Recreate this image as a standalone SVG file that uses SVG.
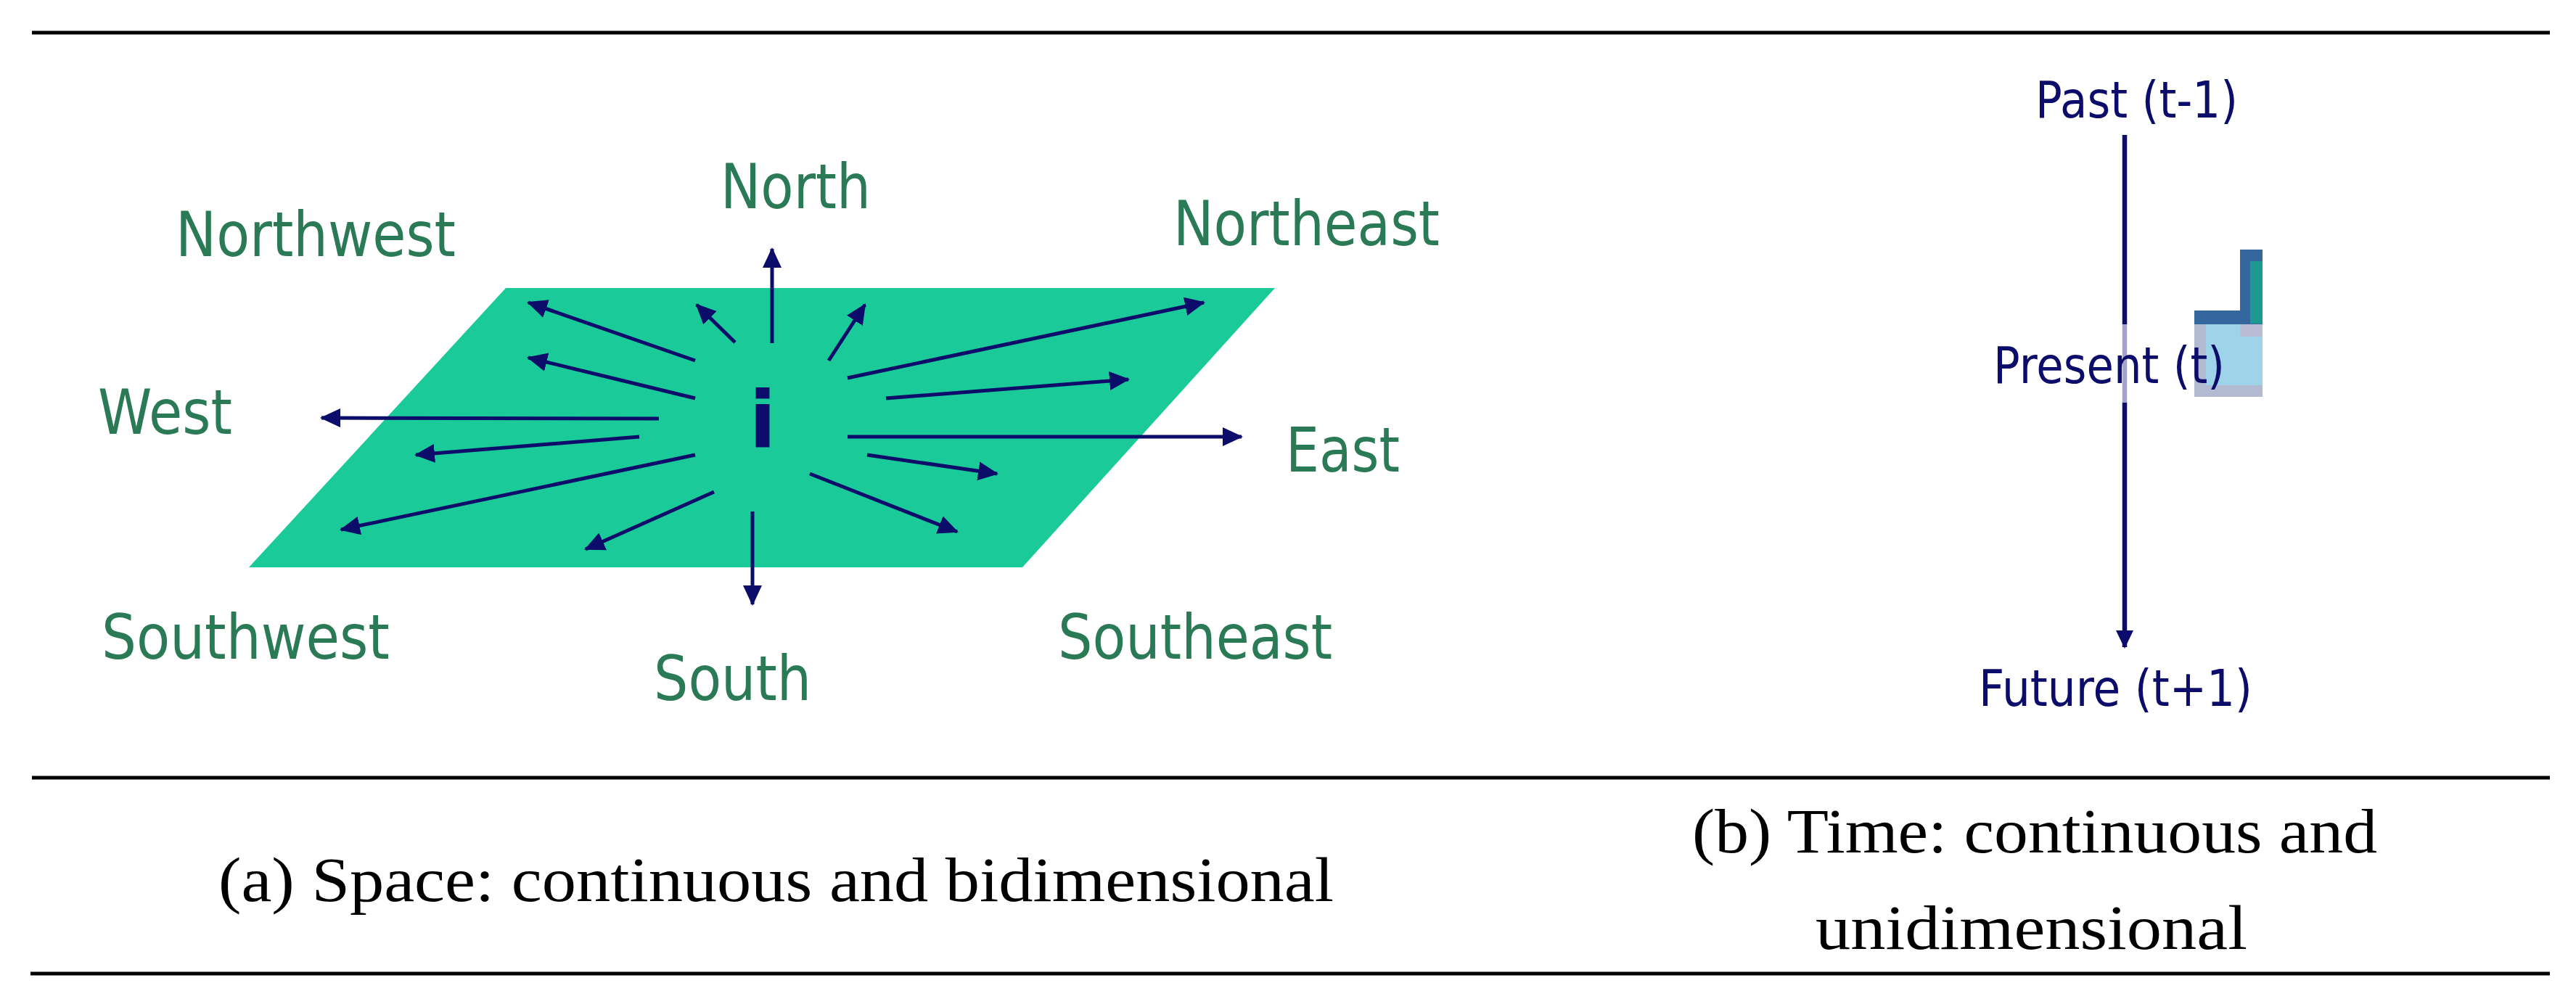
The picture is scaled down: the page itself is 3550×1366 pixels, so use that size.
<svg xmlns="http://www.w3.org/2000/svg" width="3550" height="1366" viewBox="0 0 3550 1366">
<style>
.rule{stroke:#000;stroke-width:5}
.dir{font-family:"DejaVu Sans","Liberation Sans",sans-serif;font-size:86px;fill:#2B7A56}
.time{font-family:"DejaVu Sans","Liberation Sans",sans-serif;font-size:70px;fill:#0C0C6A}
.cap{font-family:"Liberation Serif","DejaVu Serif",serif;font-size:86px;fill:#000}
.arr{stroke:#0C0C6A;stroke-width:5;fill:none;marker-end:url(#ah)}
</style>
<defs>
<marker id="ah" markerUnits="userSpaceOnUse" markerWidth="30" markerHeight="28" refX="26" refY="13" orient="auto">
<path d="M0,0 L28,13 L0,26 Z" fill="#0C0C6A"/>
</marker>
<marker id="ah2" markerUnits="userSpaceOnUse" markerWidth="28" markerHeight="28" refX="23" refY="12" orient="auto">
<path d="M0,0 L25,12 L0,24 Z" fill="#0C0C6A"/>
</marker>
</defs>
<rect width="3550" height="1366" fill="#fff"/>
<g id="rules">
<line class="rule" x1="44" y1="45" x2="3514" y2="45"/>
<line class="rule" x1="44" y1="1072" x2="3514" y2="1072"/>
<line class="rule" x1="42" y1="1342" x2="3514" y2="1342"/>
</g>
<g id="plane">
<polygon points="697,397 1757,397 1409,782 343,782" fill="#1ACB99"/>
</g>
<g id="center">
<text x="1051" y="617" text-anchor="middle" font-family="'DejaVu Sans','Liberation Sans',sans-serif" font-weight="bold" font-size="108" fill="#0C0C6A">i</text>
</g>
<g id="connectors">
<line class="arr" x1="1064" y1="473" x2="1064" y2="343"/>
<line class="arr" x1="1013" y1="472" x2="960" y2="420"/>
<line class="arr" x1="958" y1="497" x2="728" y2="417"/>
<line class="arr" x1="958" y1="549" x2="728" y2="493"/>
<line class="arr" x1="908" y1="577" x2="443" y2="576"/>
<line class="arr" x1="881" y1="602" x2="573" y2="627"/>
<line class="arr" x1="958" y1="627" x2="470" y2="730"/>
<line class="arr" x1="984" y1="678" x2="807" y2="757"/>
<line class="arr" x1="1037" y1="705" x2="1037" y2="833"/>
<line class="arr" x1="1116" y1="653" x2="1319" y2="733"/>
<line class="arr" x1="1195" y1="627" x2="1374" y2="653"/>
<line class="arr" x1="1168" y1="602" x2="1711" y2="602"/>
<line class="arr" x1="1221" y1="549" x2="1555" y2="523"/>
<line class="arr" x1="1168" y1="521" x2="1659" y2="417"/>
<line class="arr" x1="1142" y1="497" x2="1192" y2="420"/>
<line x1="2928" y1="186" x2="2928" y2="447" stroke="#0C0C6A" stroke-width="6.5"/>
<line x1="2928" y1="447" x2="2928" y2="555" stroke="#A4A4CC" stroke-width="6.5"/>
<line x1="2928" y1="555" x2="2928" y2="892" stroke="#0C0C6A" stroke-width="6.5" marker-end="url(#ah2)"/>
</g>
<g id="labels-space">
<text id="north" class="dir" x="993" y="287" textLength="207" lengthAdjust="spacingAndGlyphs">North</text>
<text id="northwest" class="dir" x="242" y="353" textLength="386" lengthAdjust="spacingAndGlyphs">Northwest</text>
<text id="northeast" class="dir" x="1617" y="338" textLength="367" lengthAdjust="spacingAndGlyphs">Northeast</text>
<text id="west" class="dir" x="135" y="598" textLength="185" lengthAdjust="spacingAndGlyphs">West</text>
<text id="east" class="dir" x="1772" y="650" textLength="157" lengthAdjust="spacingAndGlyphs">East</text>
<text id="southwest" class="dir" x="140" y="908" textLength="397" lengthAdjust="spacingAndGlyphs">Southwest</text>
<text id="south" class="dir" x="901" y="965" textLength="217" lengthAdjust="spacingAndGlyphs">South</text>
<text id="southeast" class="dir" x="1458" y="908" textLength="378" lengthAdjust="spacingAndGlyphs">Southeast</text>
</g>
<g id="present-marker">
<rect x="3024" y="447" width="94" height="100" fill="#9ED3EA"/>
<rect x="3024" y="447" width="16" height="100" fill="#B2BAD2"/>
<rect x="3024" y="531" width="94" height="16" fill="#B2BAD2"/>
<rect x="3087" y="447" width="31" height="17" fill="#B8BCD4"/>
<rect x="3087" y="344" width="31" height="103" fill="#33679E"/>
<rect x="3024" y="428" width="63" height="19" fill="#33679E"/>
<rect x="3101" y="360" width="17" height="86" fill="#1C9A92"/>
</g>
<g id="labels-time">
<text id="past" class="time" x="2805" y="162" textLength="279" lengthAdjust="spacingAndGlyphs">Past (t-1)</text>
<text id="present" class="time" x="2747" y="528" textLength="319" lengthAdjust="spacingAndGlyphs">Present (t)</text>
<text id="future" class="time" x="2727" y="973" textLength="377" lengthAdjust="spacingAndGlyphs">Future (t+1)</text>
</g>
<g id="captions">
<text class="cap" x="301" y="1242" textLength="1537" lengthAdjust="spacingAndGlyphs">(a) Space: continuous and bidimensional</text>
<text class="cap" x="2332" y="1175" textLength="944" lengthAdjust="spacingAndGlyphs">(b) Time: continuous and</text>
<text class="cap" x="2502" y="1308" textLength="595" lengthAdjust="spacingAndGlyphs">unidimensional</text>
</g>
</svg>
